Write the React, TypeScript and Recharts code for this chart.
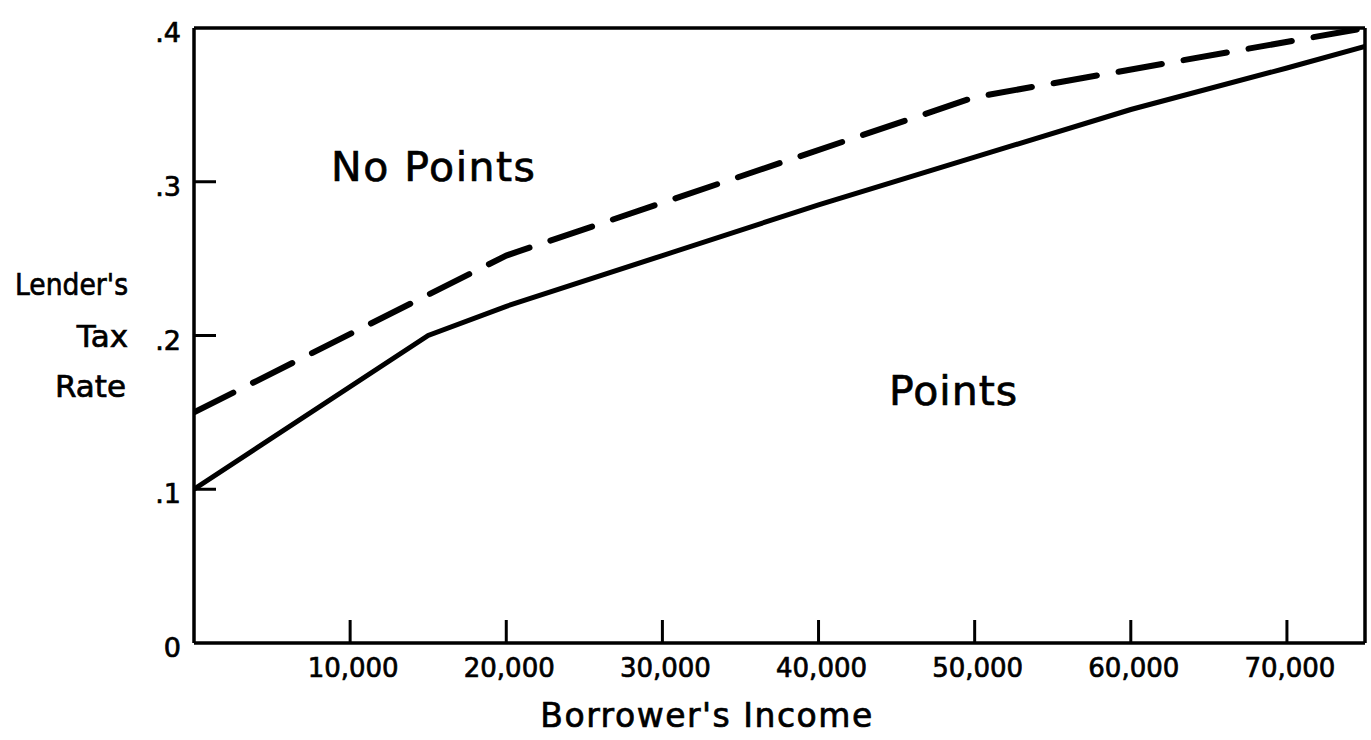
import React from 'react';
import { LineChart, Line, XAxis, YAxis, ReferenceLine, Customized } from 'recharts';

// Borrower's income ticks and lender's tax-rate ticks
const incomeTicks = [10000, 20000, 30000, 40000, 50000, 60000, 70000];
const rateTicks = [0, 0.1, 0.2, 0.3, 0.4];
const innerRateTicks = [0.1, 0.2, 0.3];

// Dashed boundary (upper)
const dashedIncome = [0, 20000, 50000, 75000];
const dashedRate = [0.15, 0.252, 0.355, 0.4];

// Solid boundary (lower)
const solidIncome = [0, 15000, 20000, 30000, 40000, 50000, 60000, 70000, 75000];
const solidRate = [0.1, 0.2, 0.219, 0.252, 0.285, 0.316, 0.347, 0.374, 0.388];

const dashedData = dashedIncome.map((x, i) => ({ x, y: dashedRate[i] }));
const solidData = solidIncome.map((x, i) => ({ x, y: solidRate[i] }));

const FONT = '"DejaVu Sans", sans-serif';
const TEXT_STROKE = { stroke: '#000', strokeWidth: 0.7 };

const fmtIncome = (v: number) => v.toLocaleString('en-US');
const fmtRate = (v: number) => (v === 0 ? '0' : String(v).replace(/^0/, ''));

const XTick = (props: any) => {
  const { x, y, payload } = props;
  return (
    <g>
      <line x1={x} y1={y} x2={x} y2={y - 23} stroke="#000" strokeWidth={3} />
      <text x={x + 3} y={y + 34} textAnchor="middle" fontFamily={FONT} fontSize={26} fill="#000" {...TEXT_STROKE}>
        {fmtIncome(payload.value)}
      </text>
    </g>
  );
};

const YTick = (props: any) => {
  const { x, y, payload } = props;
  const inner = innerRateTicks.includes(payload.value);
  return (
    <g>
      {inner && <line x1={x} y1={y} x2={x + 22} y2={y} stroke="#000" strokeWidth={3} />}
      <text x={x - 13} y={y + 14} textAnchor="end" fontFamily={FONT} fontSize={27} fill="#000" {...TEXT_STROKE}>
        {fmtRate(payload.value)}
      </text>
    </g>
  );
};

const Annotations = () => (
  <g fontFamily={FONT} fill="#000" {...TEXT_STROKE}>
    <text x={128} y={295} textAnchor="end" fontSize={30} textLength={113} lengthAdjust="spacingAndGlyphs">Lender's</text>
    <text x={128} y={347} textAnchor="end" fontSize={31}>Tax</text>
    <text x={126} y={397} textAnchor="end" fontSize={31}>Rate</text>
    <text x={707} y={727} textAnchor="middle" fontSize={33} letterSpacing={1.5}>Borrower's  Income</text>
    <text x={331} y={181} fontSize={41} letterSpacing={1.5}>No Points</text>
    <text x={889} y={405} fontSize={41} letterSpacing={1}>Points</text>
  </g>
);

export default function App() {
  return (
    <div style={{ position: 'absolute', left: 0, top: 0, background: '#fff' }}>
      <LineChart width={1371} height={740} margin={{ top: 28, right: 6, bottom: 0, left: 0 }}>
        <XAxis
          type="number"
          dataKey="x"
          domain={[0, 75000]}
          ticks={incomeTicks}
          allowDataOverflow
          height={97}
          tickSize={0}
          tickMargin={0}
          tickLine={false}
          axisLine={{ stroke: '#000', strokeWidth: 3.5 }}
          tick={<XTick />}
        />
        <YAxis
          type="number"
          domain={[0, 0.4]}
          ticks={rateTicks}
          allowDataOverflow
          width={194}
          tickSize={0}
          tickMargin={0}
          tickLine={false}
          axisLine={{ stroke: '#000', strokeWidth: 3.5 }}
          tick={<YTick />}
        />
        <ReferenceLine y={0.4} stroke="#000" strokeWidth={3.5} />
        <ReferenceLine x={75000} stroke="#000" strokeWidth={3.5} />
        <Line
          data={solidData}
          dataKey="y"
          type="linear"
          stroke="#000"
          strokeWidth={5}
          dot={false}
          activeDot={false}
          isAnimationActive={false}
        />
        <Line
          data={dashedData}
          dataKey="y"
          type="linear"
          stroke="#000"
          strokeWidth={6}
          strokeDasharray="44 22"
          strokeLinecap="round"
          dot={false}
          activeDot={false}
          isAnimationActive={false}
        />
        <Customized component={<Annotations />} />
      </LineChart>
    </div>
  );
}
